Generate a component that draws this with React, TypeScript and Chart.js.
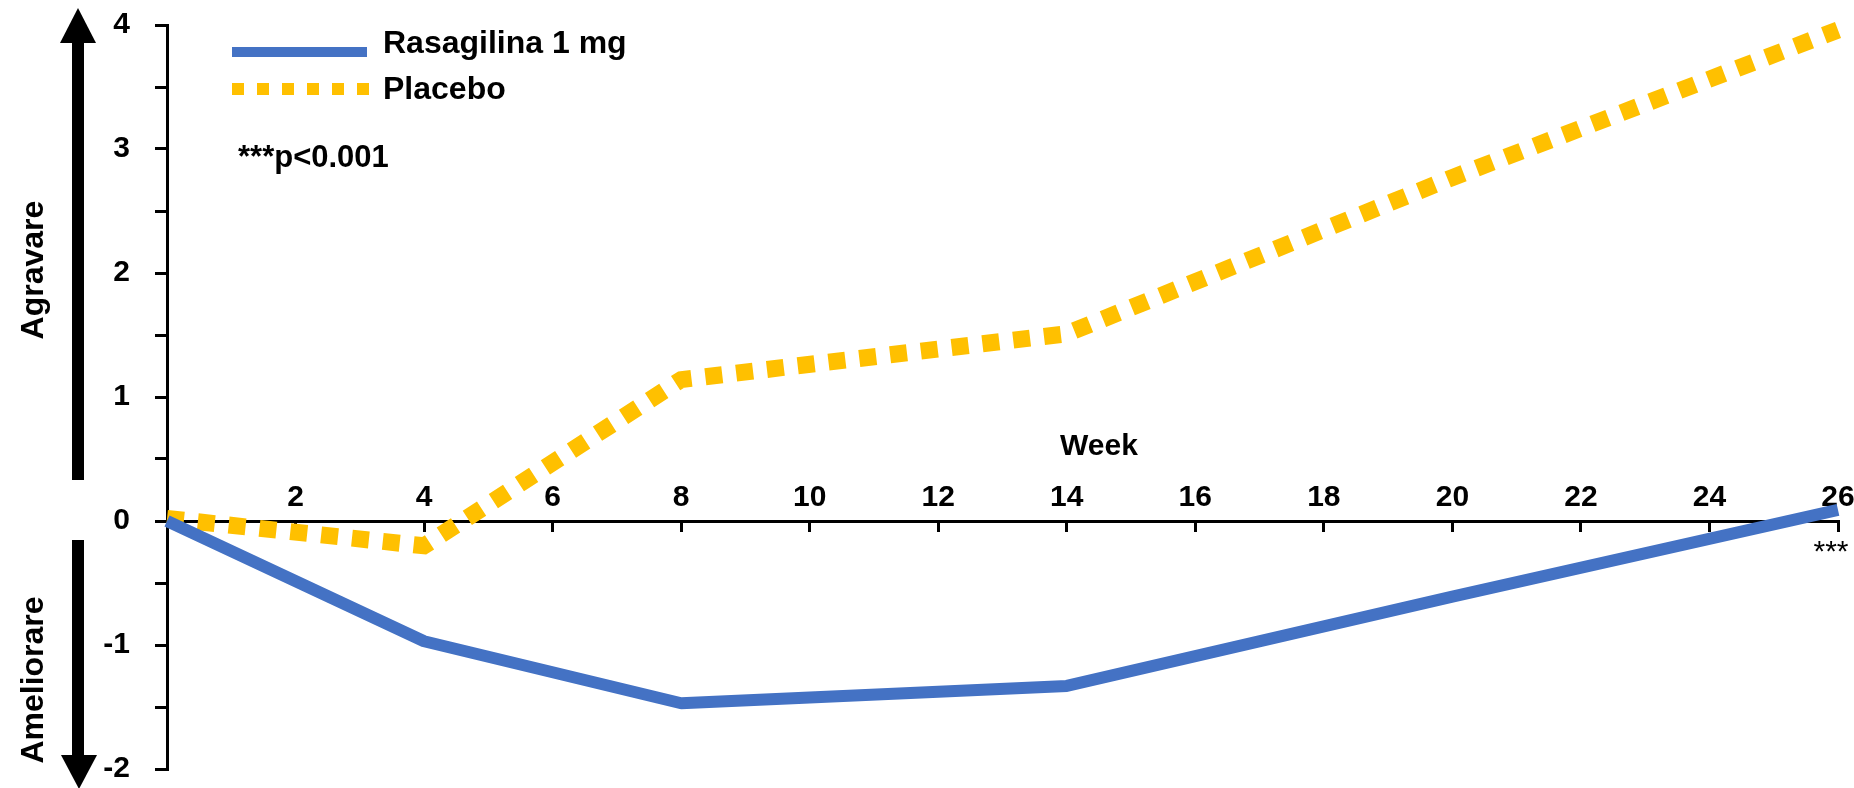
import React, { useEffect, useRef } from 'react';
import { Chart, registerables } from 'chart.js';

Chart.register(...registerables);

const weeks = [0, 4, 8, 14, 20, 26];
const rasagilina = [0, -0.97, -1.47, -1.33, -0.61, 0.09];
const placebo = [0.02, -0.2, 1.14, 1.51, 2.77, 3.96];
const seriesLabels = ['Rasagilina 1 mg', 'Placebo'];
const seriesColors = ['#4472C4', '#FFC000'];
const xTickLabels = ['2', '4', '6', '8', '10', '12', '14', '16', '18', '20', '22', '24', '26'];
const yTickLabels = ['-2', '-1', '0', '1', '2', '3', '4'];
const xTitle = 'Week';
const upLabel = 'Agravare';
const downLabel = 'Ameliorare';
const footnote = '***p<0.001';
const sigMark = '***';

const FONT = '"Liberation Sans", Arial, sans-serif';

const decorations = {
  id: 'decorations',
  afterDraw(chart: any) {
    const ctx = chart.ctx as CanvasRenderingContext2D;
    const xs = chart.scales.x;
    const ys = chart.scales.y;
    ctx.save();
    ctx.fillStyle = '#000';

    // up arrow
    ctx.fillRect(72, 43, 12, 437);
    ctx.beginPath();
    ctx.moveTo(60, 43);
    ctx.lineTo(96, 43);
    ctx.lineTo(78, 8);
    ctx.closePath();
    ctx.fill();
    // down arrow
    ctx.fillRect(72, 540, 12, 215);
    ctx.beginPath();
    ctx.moveTo(61, 755);
    ctx.lineTo(97, 755);
    ctx.lineTo(79, 789);
    ctx.closePath();
    ctx.fill();

    // rotated labels
    ctx.font = `bold 32px ${FONT}`;
    ctx.textAlign = 'center';
    ctx.textBaseline = 'alphabetic';
    ctx.save();
    ctx.translate(43, 270);
    ctx.rotate(-Math.PI / 2);
    ctx.fillText(upLabel, 0, 0);
    ctx.restore();
    ctx.save();
    ctx.translate(43, 680);
    ctx.rotate(-Math.PI / 2);
    ctx.fillText(downLabel, 0, 0);
    ctx.restore();

    // legend
    ctx.lineCap = 'butt';
    ctx.strokeStyle = seriesColors[0];
    ctx.lineWidth = 10;
    ctx.setLineDash([]);
    ctx.beginPath();
    ctx.moveTo(232, 52);
    ctx.lineTo(367, 52);
    ctx.stroke();
    ctx.strokeStyle = seriesColors[1];
    ctx.lineWidth = 12;
    ctx.setLineDash([12, 13]);
    ctx.beginPath();
    ctx.moveTo(232, 89);
    ctx.lineTo(369, 89);
    ctx.stroke();
    ctx.setLineDash([]);
    ctx.font = `bold 32px ${FONT}`;
    ctx.textAlign = 'left';
    ctx.fillStyle = '#000';
    ctx.fillText(seriesLabels[0], 383, 53);
    ctx.fillText(seriesLabels[1], 383, 99);

    // footnote
    ctx.font = `bold 31px ${FONT}`;
    ctx.fillText(footnote, 238, 167);

    // x title
    ctx.font = `bold 30px ${FONT}`;
    ctx.textAlign = 'center';
    ctx.fillText(xTitle, 1099, 455);

    // significance mark
    const zeroY = ys.getPixelForValue(0);
    ctx.font = `30px ${FONT}`;
    ctx.fillText(sigMark, xs.getPixelForValue(26) - 7, zeroY + 40);
    ctx.restore();
  },
};

export default function App() {
  const ref = useRef<HTMLCanvasElement>(null);
  useEffect(() => {
    document.body.style.margin = '0';
    const canvas = ref.current!;
    const chart = new Chart(canvas, {
      type: 'line',
      data: {
        datasets: [
          {
            label: seriesLabels[0],
            data: weeks.map((w, i) => ({ x: w, y: rasagilina[i] })),
            borderColor: seriesColors[0],
            backgroundColor: seriesColors[0],
            borderWidth: 12,
            pointRadius: 0,
            tension: 0,
            borderCapStyle: 'butt',
            borderJoinStyle: 'bevel',
            clip: false,
          },
          {
            label: seriesLabels[1],
            data: weeks.map((w, i) => ({ x: w, y: placebo[i] })),
            borderColor: seriesColors[1],
            backgroundColor: seriesColors[1],
            borderWidth: 17,
            borderDash: [17, 14],
            pointRadius: 0,
            tension: 0,
            borderCapStyle: 'butt',
            borderJoinStyle: 'miter',
            clip: false,
          },
        ],
      },
      options: {
        responsive: false,
        animation: false,
        devicePixelRatio: 1,
        layout: { padding: { left: 0, right: 16, top: 25, bottom: 19 } },
        plugins: {
          legend: { display: false },
          tooltip: { enabled: false },
        },
        scales: {
          x: {
            type: 'linear',
            min: 0,
            max: 26,
            position: { y: 0 } as any,
            afterFit: (s: any) => {
              s.paddingLeft = 0;
              s.paddingRight = 0;
              s.paddingTop = 0;
              s.paddingBottom = 0;
            },
            border: { display: true, color: '#000', width: 3 },
            grid: {
              display: true,
              drawOnChartArea: false,
              drawTicks: true,
              tickLength: 9,
              color: '#000',
              lineWidth: 3,
            },
            ticks: {
              stepSize: 2,
              autoSkip: false,
              maxRotation: 0,
              padding: -50,
              color: '#000',
              font: { family: FONT, size: 30, weight: 'bold' },
              callback: (v: any) => {
                const s = String(v);
                return xTickLabels.includes(s) ? s : '';
              },
            },
          },
          y: {
            type: 'linear',
            min: -2,
            max: 4,
            position: 'left',
            afterFit: (s: any) => {
              s.width = 167;
              s.paddingTop = 0;
              s.paddingBottom = 0;
            },
            border: { display: true, color: '#000', width: 3 },
            grid: {
              display: true,
              drawOnChartArea: false,
              drawTicks: true,
              tickLength: 12,
              color: '#000',
              lineWidth: 3,
            },
            ticks: {
              stepSize: 0.5,
              autoSkip: false,
              padding: 25,
              color: '#000',
              font: { family: FONT, size: 30, weight: 'bold', lineHeight: 1 },
              callback: (v: any) => {
                const s = String(v);
                return yTickLabels.includes(s) ? s : '';
              },
            },
          },
        },
      },
      plugins: [decorations],
    });
    return () => chart.destroy();
  }, []);
  return (
    <div style={{ position: 'absolute', left: 0, top: 0, width: 1854, height: 788 }}>
      <canvas ref={ref} width={1854} height={788} style={{ display: 'block' }} />
    </div>
  );
}
